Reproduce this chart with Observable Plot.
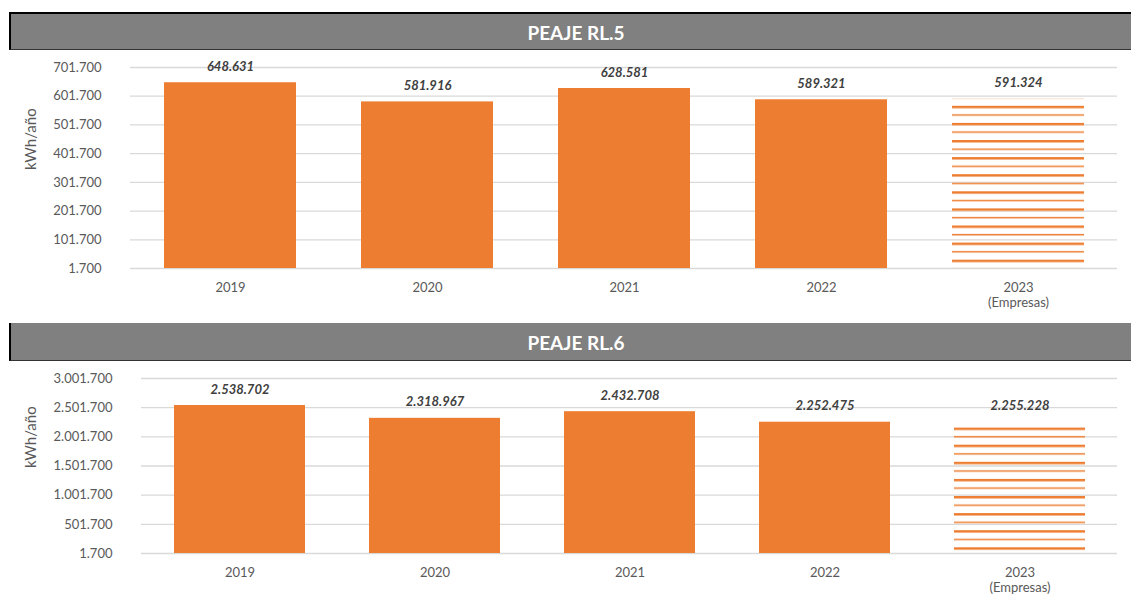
<!DOCTYPE html>
<html>
<head>
<meta charset="utf-8">
<script src="https://cdn.jsdelivr.net/npm/d3@7"></script>
<script src="https://cdn.jsdelivr.net/npm/@observablehq/plot@0.6"></script>
<style>
  html, body { margin: 0; padding: 0; background: #fff; }
  body { width: 1131px; height: 596px; position: relative; overflow: hidden; font-family: Lato, "Noto Sans", sans-serif; }
  .title { position: absolute; left: 9px; width: 1122px; box-sizing: border-box; background: #808080; color: #fff;
           font-weight: bold; font-size: 19px; display: flex; align-items: center; justify-content: center;
           border-left: 2px solid #000; border-bottom: 1px solid #333; padding-top: 2px; padding-left: 10px; }
  #t1 { top: 12px; height: 38px; border-top: 2px solid #000; }
  #t2 { top: 323px; height: 38px; }
  .plot { position: absolute; left: 0; }
  #p1 { top: 50px; }
  #p2 { top: 361px; }
</style>
</head>
<body>
<div class="title" id="t1">PEAJE RL.5</div>
<div class="plot" id="p1"></div>
<div class="title" id="t2">PEAJE RL.6</div>
<div class="plot" id="p2"></div>
<script>
const years = ["2019", "2020", "2021", "2022", "2023"];
const yearLabels = ["2019", "2020", "2021", "2022", "2023\n(Empresas)"];
const rl5Values = [648631, 581916, 628581, 589321, 591324];
const rl6Values = [2538702, 2318967, 2432708, 2252475, 2255228];
const rl5Ticks = [1700, 101700, 201700, 301700, 401700, 501700, 601700, 701700];
const rl6Ticks = [1700, 501700, 1001700, 1501700, 2001700, 2501700, 3001700];
const estimated = ["2023"];
const yLabel = "kWh/año";

const fmt = d3.formatLocale({thousands: ".", decimal: ",", grouping: [3], currency: ["", ""]}).format(",d");
const labelOf = Object.fromEntries(years.map((y, i) => [y, yearLabels[i]]));

function chart({values, ticks, height, marginTop, marginBottom, marginLeft, patternId, patternY}) {
  const data = years.map((y, i) => ({year: y, value: values[i], est: estimated.includes(y)}));
  const base = ticks[0];
  const svg = Plot.plot({
    width: 1131,
    height,
    marginTop, marginBottom, marginLeft, marginRight: 14,
    style: {fontFamily: "Lato, 'Noto Sans', sans-serif", fontSize: "13px", color: "#595959", background: "transparent"},
    x: {domain: years, paddingInner: 0.33, paddingOuter: 0.165, label: null, axis: null},
    y: {domain: [ticks[0], ticks[ticks.length - 1]], ticks, tickFormat: fmt, tickSize: 0, tickPadding: 29, label: null},
    marks: [
      Plot.ruleY(ticks, {stroke: "#d9d9d9", strokeWidth: 1.3}),
      Plot.axisX({tickSize: 0, tickPadding: 12, lineHeight: 1.2, tickFormat: d => labelOf[d], label: null, fill: "#595959"}),
      Plot.rectY(data.filter(d => !d.est), {x: "year", y1: base, y2: "value", fill: "#ED7D31"}),
      Plot.rectY(data.filter(d => d.est), {x: "year", y1: base, y2: "value", fill: `url(#${patternId})`}),
      Plot.text(data, {x: "year", y: "value", text: d => fmt(d.value), dy: -16, fontWeight: "bold", fontStyle: "italic", fill: "#404040", fontSize: 13}),
      Plot.text([yLabel], {frameAnchor: "left", dx: -(marginLeft - 31), dy: 2, rotate: -90, fill: "#595959", fontSize: 15})
    ]
  });
  const defs = d3.select(svg).insert("defs", ":first-child");
  const pat = defs.append("pattern").attr("id", patternId).attr("patternUnits", "userSpaceOnUse")
    .attr("x", 0).attr("y", patternY).attr("width", 10).attr("height", 17.1);
  pat.append("rect").attr("x", 0).attr("y", -0.6).attr("width", 10).attr("height", 3.4).attr("fill", "#F8CBAD");
  pat.append("rect").attr("x", 0).attr("y", 0).attr("width", 10).attr("height", 2.2).attr("fill", "#ED7D31");
  pat.append("rect").attr("x", 0).attr("y", 8.3).attr("width", 10).attr("height", 1.8).attr("fill", "#F8CBAD");
  pat.append("rect").attr("x", 0).attr("y", 8.6).attr("width", 10).attr("height", 1.2).attr("fill", "#ED7D31");
  return svg;
}

document.getElementById("p1").append(chart({
  values: rl5Values, ticks: rl5Ticks, height: 270, marginTop: 17, marginBottom: 52, marginLeft: 130,
  patternId: "hatch1", patternY: 4.5
}));
document.getElementById("p2").append(chart({
  values: rl6Values, ticks: rl6Ticks, height: 235, marginTop: 17, marginBottom: 43, marginLeft: 141,
  patternId: "hatch2", patternY: 15.3
}));
</script>
</body>
</html>
